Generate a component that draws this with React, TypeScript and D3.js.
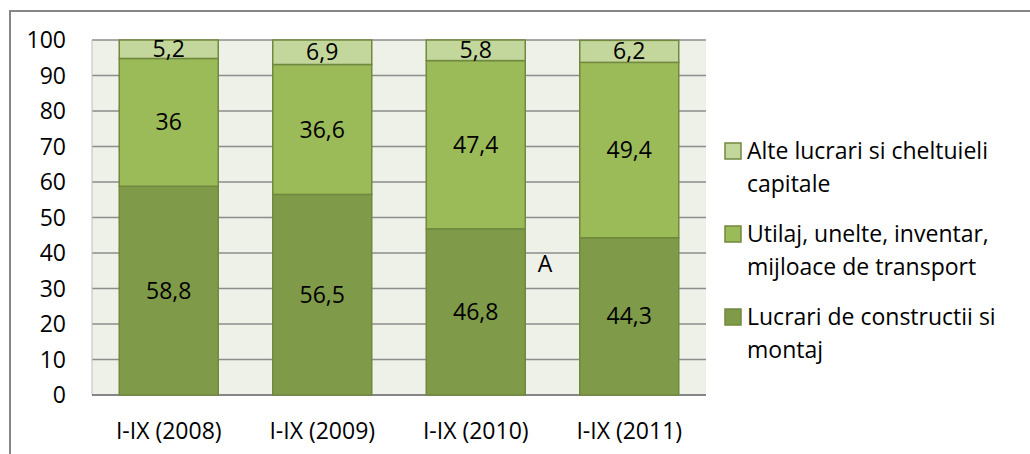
import * as d3 from "d3";

const categories = ["I-IX (2008)", "I-IX (2009)", "I-IX (2010)", "I-IX (2011)"];
const constructii = [58.8, 56.5, 46.8, 44.3];
const utilaj = [36, 36.6, 47.4, 49.4];
const alte = [5.2, 6.9, 5.8, 6.2];
const yTicks = [0, 10, 20, 30, 40, 50, 60, 70, 80, 90, 100];

const seriesNames = [
  ["Lucrari de constructii si", "montaj"],
  ["Utilaj, unelte, inventar,", "mijloace de transport"],
  ["Alte lucrari si cheltuieli", "capitale"],
];
const seriesValues = [constructii, utilaj, alte];
const seriesColors = ["#7F9A48", "#9BBB59", "#C3D69B"];

const W = 1030, H = 454;
const plot = { left: 92, right: 706, top: 40, bottom: 395 };
const FONT = "'Open Sans', Lato, sans-serif";
const FS = 23;

const fmt = (v: number) => String(v).replace(".", ",");

export default function App() {
  const x = d3.scaleBand<string>()
    .domain(categories)
    .range([plot.left, plot.right])
    .paddingInner(0.355)
    .paddingOuter(0.1775);
  const y = d3.scaleLinear().domain([0, 100]).range([plot.bottom, plot.top]);

  // stack: rows per category
  const rows = categories.map((c, i) => ({
    cat: c,
    s0: seriesValues[0][i],
    s1: seriesValues[1][i],
    s2: seriesValues[2][i],
  }));
  const stack = d3.stack<any>().keys(["s0", "s1", "s2"])(rows);

  return (
    <svg width={W} height={H} style={{ position: "absolute", left: 0, top: 0, background: "#fff" }}
      fontFamily={FONT}>
      {/* outer chart border */}
      <rect x={10} y={11} width={W + 20} height={H + 20} fill="#fff" stroke="#868686" strokeWidth={2} />

      {/* plot area */}
      <rect x={plot.left} y={plot.top} width={plot.right - plot.left} height={plot.bottom - plot.top}
        fill="#EEF1E8" />
      {yTicks.filter((t) => t > 0).map((t) => (
        <line key={t} x1={plot.left} x2={plot.right} y1={y(t)} y2={y(t)} stroke="#8C8C8C" strokeWidth={1.5} />
      ))}
      <line x1={plot.left} x2={plot.left} y1={plot.top} y2={plot.bottom} stroke="#BFBFBF" strokeWidth={1} />
      <line x1={plot.left} x2={plot.right} y1={plot.bottom} y2={plot.bottom} stroke="#868686" strokeWidth={2} />

      {/* bars */}
      {stack.map((layer, si) => (
        <g key={si}>
          {layer.map((d, i) => (
            <rect key={i} x={x(categories[i])} y={y(d[1])} width={x.bandwidth()}
              height={y(d[0]) - y(d[1])} fill={seriesColors[si]} stroke="#71893F" strokeWidth={1.5} />
          ))}
        </g>
      ))}

      {/* data labels */}
      {stack.map((layer, si) => (
        <g key={"l" + si}>
          {layer.map((d, i) => (
            <text key={i} x={(x(categories[i]) as number) + x.bandwidth() / 2} y={y((d[0] + d[1]) / 2)}
              dy="0.35em" textAnchor="middle" fontSize={FS} fill="#000">
              {fmt(seriesValues[si][i])}
            </text>
          ))}
        </g>
      ))}

      {/* y axis labels */}
      {yTicks.map((t) => (
        <text key={t} x={66} y={y(t)} dy="0.35em" textAnchor="end" fontSize={FS} fill="#000">{t}</text>
      ))}

      {/* x axis labels */}
      {categories.map((c) => (
        <text key={c} x={(x(c) as number) + x.bandwidth() / 2} y={431} dy="0.35em" textAnchor="middle"
          fontSize={FS} fill="#000">{c}</text>
      ))}

      <text x={545} y={264} dy="0.35em" textAnchor="middle" fontSize={FS} fill="#000">A</text>

      {/* legend */}
      {[2, 1, 0].map((si, k) => {
        const cy = 151 + k * 83;
        return (
          <g key={si}>
            <rect x={725} y={cy - 8} width={16} height={16} fill={seriesColors[si]} stroke="#71893F" strokeWidth={1.5} />
            <text x={747} y={cy} dy="0.35em" fontSize={FS} fill="#000">{seriesNames[si][0]}</text>
            <text x={747} y={cy + 33} dy="0.35em" fontSize={FS} fill="#000">{seriesNames[si][1]}</text>
          </g>
        );
      })}
    </svg>
  );
}
